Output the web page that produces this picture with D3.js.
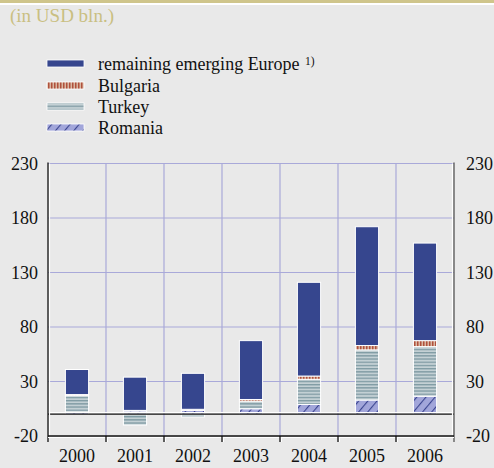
<!DOCTYPE html>
<html><head><meta charset="utf-8">
<script src="https://cdn.jsdelivr.net/npm/d3@7"></script>
<style>
html,body{margin:0;padding:0;background:#e9e9e9;}
svg{display:block;}
text{font-family:"Liberation Serif","Times New Roman",serif;}
</style></head>
<body>
<script>
const years = ["2000","2001","2002","2003","2004","2005","2006"];
const romania   = [2, 3, 3.5, 5, 9, 13, 16.5];
const turkey    = [15, -10, -2.5, 7, 23, 46, 45.5];
const bulgaria  = [1, 0.5, 1, 1.5, 3, 4, 5.5];
const remaining = [23, 30.5, 33, 54, 86, 109, 89.5];
const yTicks = [-20, 30, 80, 130, 180, 230];
const seriesNames = ["remaining emerging Europe", "Bulgaria", "Turkey", "Romania"];

const W = 494, H = 468;
const svg = d3.select("body").append("svg").attr("width", W).attr("height", H);
const defs = svg.append("defs");

// patterns
const pB = defs.append("pattern").attr("id","pBul").attr("patternUnits","userSpaceOnUse").attr("width",3).attr("height",3);
pB.append("rect").attr("width",3).attr("height",3).attr("fill","#d9b7a3");
pB.append("rect").attr("width",1.5).attr("height",3).attr("fill","#b0513c");
const pT = defs.append("pattern").attr("id","pTur").attr("patternUnits","userSpaceOnUse").attr("width",4).attr("height",3.2);
pT.append("rect").attr("width",4).attr("height",3.2).attr("fill","#c3d0d4");
pT.append("rect").attr("width",4).attr("height",1.3).attr("fill","#7f9aa3");
const pR = defs.append("pattern").attr("id","pRom").attr("patternUnits","userSpaceOnUse").attr("width",7).attr("height",7).attr("patternTransform","rotate(40)");
pR.append("rect").attr("width",7).attr("height",7).attr("fill","#a2a6da");
pR.append("rect").attr("width",1.1).attr("height",7).attr("fill","#3b4590");

const fills = {
  "remaining emerging Europe": "#36468e",
  "Bulgaria": "url(#pBul)",
  "Turkey": "url(#pTur)",
  "Romania": "url(#pRom)"
};

// top band and title
svg.append("rect").attr("x",0).attr("y",0).attr("width",W).attr("height",3).attr("fill","#cfc58b");
svg.append("rect").attr("x",0).attr("y",3).attr("width",W).attr("height",2).attr("fill","#ffffff");
svg.append("text").attr("x",10).attr("y",22).attr("font-size",19).attr("fill","#c9bf82").text("(in USD bln.)");

// legend
const legY = [64, 86, 107, 128];
seriesNames.forEach((n,i)=>{
  svg.append("rect").attr("x",47).attr("y",legY[i]-4).attr("width",37).attr("height",7)
     .attr("fill",fills[n]).attr("stroke","#ffffff").attr("stroke-width",0.8);
  svg.append("text").attr("x",98).attr("y",legY[i]+6).attr("font-size",18).attr("fill","#111").text(n);
  if(i===0){
    svg.append("text").attr("x",305).attr("y",legY[i]+1).attr("font-size",11.5).attr("fill","#111").text("1)");
  }
});

// scales
const pL = 48, pR2 = 454, pT2 = 163.5, pB2 = 436;
const x = d3.scaleBand().domain(years).range([pL, pR2]).paddingInner(0.6).paddingOuter(0.3);
const y = d3.scaleLinear().domain([-20, 230]).range([pB2, pT2]);

// grid
const g = svg.append("g");
yTicks.filter(v=>v>-20).forEach(v=>{
  g.append("line").attr("x1",pL).attr("x2",pR2).attr("y1",y(v)).attr("y2",y(v))
   .attr("stroke","#a9a9d9").attr("stroke-width",1.2);
});
const step = x.step();
const bounds = years.slice(1).map(yr => x(yr) - x.paddingInner()*step/2);
bounds.forEach(bx=>{
  g.append("line").attr("x1",bx).attr("x2",bx).attr("y1",pT2).attr("y2",pB2)
   .attr("stroke","#a9a9d9").attr("stroke-width",1.2);
});

// stack
const data = years.map((yr,i)=>({year:yr, "Romania":romania[i], "Turkey":turkey[i], "Bulgaria":bulgaria[i], "remaining emerging Europe":remaining[i]}));
const stack = d3.stack().keys(["Romania","Turkey","Bulgaria","remaining emerging Europe"]).offset(d3.stackOffsetDiverging);
const layers = stack(data);
layers.forEach(layer=>{
  svg.append("g").selectAll("rect").data(layer).join("rect")
    .attr("x", d=>x(d.data.year))
    .attr("width", x.bandwidth())
    .attr("y", d=>y(Math.max(d[0],d[1])))
    .attr("height", d=>Math.abs(y(d[0])-y(d[1])))
    .attr("fill", fills[layer.key])
    .attr("stroke","#ffffff").attr("stroke-width",1);
});

// zero line
svg.append("line").attr("x1",pL).attr("x2",pR2).attr("y1",y(0)-1.5).attr("y2",y(0)-1.5).attr("stroke","#ffffff").attr("stroke-width",1.2);
svg.append("line").attr("x1",pL).attr("x2",pR2).attr("y1",y(0)).attr("y2",y(0)).attr("stroke","#111").attr("stroke-width",1.3);

// axes lines
svg.append("line").attr("x1",pL+1.5).attr("x2",pL+1.5).attr("y1",pT2).attr("y2",pB2).attr("stroke","#ffffff").attr("stroke-width",1.2);
svg.append("line").attr("x1",pL).attr("x2",pL).attr("y1",pT2-1).attr("y2",pB2+6).attr("stroke","#111").attr("stroke-width",1.3);
svg.append("line").attr("x1",pR2-1.5).attr("x2",pR2-1.5).attr("y1",pT2).attr("y2",pB2).attr("stroke","#ffffff").attr("stroke-width",1.2);
svg.append("line").attr("x1",pR2).attr("x2",pR2).attr("y1",pT2-1).attr("y2",pB2+6).attr("stroke","#555").attr("stroke-width",1.3);
svg.append("line").attr("x1",pL).attr("x2",pR2).attr("y1",pB2+1.5).attr("y2",pB2+1.5).attr("stroke","#ffffff").attr("stroke-width",1.2);
svg.append("line").attr("x1",pL).attr("x2",pR2).attr("y1",pB2).attr("y2",pB2).attr("stroke","#111").attr("stroke-width",1.3);
bounds.forEach(bx=>{
  svg.append("line").attr("x1",bx).attr("x2",bx).attr("y1",pB2).attr("y2",pB2+6).attr("stroke","#111").attr("stroke-width",1.3);
  svg.append("line").attr("x1",bx+1.5).attr("x2",bx+1.5).attr("y1",pB2+1).attr("y2",pB2+6).attr("stroke","#fff").attr("stroke-width",1);
});

// y axes
const fmt = d => String(d);
const gl = svg.append("g").attr("transform",`translate(38,0)`).call(d3.axisLeft(y).tickValues(yTicks).tickSize(0).tickPadding(0).tickFormat(fmt));
const gr = svg.append("g").attr("transform",`translate(466,0)`).call(d3.axisRight(y).tickValues(yTicks).tickSize(0).tickPadding(0).tickFormat(fmt));
[gl,gr].forEach(ax=>{
  ax.select(".domain").remove();
  ax.selectAll("text").attr("font-size",18).attr("font-family","Liberation Serif, serif").attr("fill","#111");
});

// x axis labels
const xa = svg.append("g").attr("transform",`translate(0,${pB2+13})`).call(d3.axisBottom(x).tickSize(0).tickPadding(0));
xa.select(".domain").remove();
xa.selectAll("text").attr("font-size",18).attr("font-family","Liberation Serif, serif").attr("fill","#111");
</script>
</body></html>
